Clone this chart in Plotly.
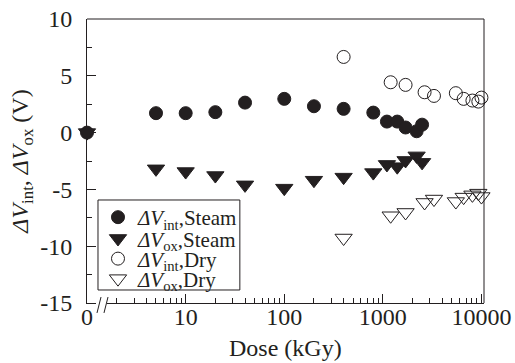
import numpy as np
import plotly.graph_objects as go

# ---------------- data ----------------
steam_dose = [0, 5, 10, 20, 40, 100, 200, 400, 800, 1100, 1400, 1700, 2200, 2500]
steam_vint = [0, 1.71, 1.71, 1.80, 2.64, 2.97, 2.32, 2.09, 1.76, 0.97, 0.97, 0.45, 0.12, 0.70]
steam_vox = [0, -3.19, -3.43, -3.78, -4.60, -4.89, -4.19, -3.92, -3.52, -2.80, -3.00, -2.45, -2.05, -2.62]

dry_dose = [400, 1200, 1700, 2650, 3300, 5500, 6600, 8100, 9300, 10000]
dry_vint = [6.66, 4.43, 4.20, 3.55, 3.23, 3.47, 2.97, 2.82, 2.73, 3.08]
dry_vox = [-9.28, -7.32, -7.03, -6.15, -5.85, -6.07, -5.68, -5.48, -5.33, -5.63]

y_ticks = [-15, -10, -5, 0, 5, 10]
y_ticktext = ["-15", "-10", "-5", "0", "5", "10"]
x_ticks = [10, 100, 1000, 10000]
x_ticktext = ["10", "100", "1000", "10000"]

FONT = "'Liberation Serif', Tinos, 'Times New Roman', 'DejaVu Serif', serif"
INK = "#231f20"

series = [
    ("<i>ΔV</i><sub>int</sub>,Steam", steam_dose, steam_vint, "circle"),
    ("<i>ΔV</i><sub>ox</sub>,Steam", steam_dose, steam_vox, "triangle-down"),
    ("<i>ΔV</i><sub>int</sub>,Dry", dry_dose, dry_vint, "circle-open"),
    ("<i>ΔV</i><sub>ox</sub>,Dry", dry_dose, dry_vox, "triangle-down-open"),
]
legend_ids = ["legend", "legend2", "legend3", "legend4"]

fig = go.Figure()
for (name, dose, vals, sym), lg in zip(series, legend_ids):
    d = np.array(dose, dtype=float)
    v = np.array(vals, dtype=float)
    nz = d > 0
    size = 13 if sym.startswith("circle") else 15
    marker = dict(symbol=sym, size=size, color=INK, line=dict(color=INK, width=1))
    fig.add_trace(go.Scatter(x=d[nz], y=v[nz], xaxis="x2", yaxis="y",
                             mode="markers", name=name, marker=marker,
                             legend=lg, cliponaxis=False))
    if (~nz).any():
        fig.add_trace(go.Scatter(x=d[~nz], y=v[~nz], xaxis="x", yaxis="y",
                                 mode="markers", name=name, marker=marker,
                                 showlegend=False, cliponaxis=False))

tickfont = dict(family=FONT, size=24, color=INK)

# legend rows (paper y of each row centre)
row_y = [0.301, 0.226, 0.155, 0.0845]
legend_layout = {}
for lg, ry in zip(legend_ids, row_y):
    legend_layout[lg] = dict(x=0.0277, y=ry, xanchor="left", yanchor="middle",
                             bgcolor="rgba(0,0,0,0)", borderwidth=0,
                             font=dict(family=FONT, size=21, color=INK),
                             itemwidth=30)

fig.update_layout(
    template="none",
    width=515, height=363,
    margin=dict(l=87, r=31, t=19, b=60, autoexpand=False),
    paper_bgcolor="white", plot_bgcolor="white",
    font=dict(family=FONT, color=INK),
    showlegend=True,
    **legend_layout,
    xaxis=dict(domain=[0, 0.022], range=[0, 1], tickmode="array",
               tickvals=[0], ticktext=["0"], ticks="", showline=True,
               linecolor=INK, linewidth=1, showgrid=False, zeroline=False,
               anchor="y", tickfont=tickfont, automargin=False,
               ticklabelstandoff=-8),
    xaxis2=dict(domain=[0.0504, 1], type="log", range=[0.202, 4.026],
                tickmode="array", tickvals=x_ticks, ticktext=x_ticktext,
                ticks="inside", ticklen=9, tickcolor=INK, tickwidth=1,
                minor=dict(ticks="inside", ticklen=5, dtick="D1",
                           tickcolor=INK, tickwidth=1, showgrid=False),
                showline=True, linecolor=INK, linewidth=1, showgrid=False,
                zeroline=False, anchor="y", tickfont=tickfont,
                automargin=False, ticklabelstandoff=-8),
    yaxis=dict(range=[-15, 10], tickmode="array", tickvals=y_ticks,
               ticktext=y_ticktext, ticks="inside", ticklen=9, tickcolor=INK,
               minor=dict(ticks="inside", ticklen=5, dtick=2.5, tick0=0,
                          tickcolor=INK, showgrid=False),
               showline=True, linecolor=INK, linewidth=1, showgrid=False,
               zeroline=False, anchor="x", tickfont=tickfont,
               ticklabelstandoff=9, automargin=False,
               title=dict(text="<i>ΔV</i><sub>int</sub>, <i>ΔV</i><sub>ox</sub> (V)",
                          font=dict(family=FONT, size=24, color=INK),
                          standoff=4)),
    annotations=[dict(text="Dose (kGy)", x=0.5, y=0, xref="paper", yref="paper",
                      xanchor="center", yanchor="top", yshift=-30,
                      showarrow=False, font=dict(family=FONT, size=24, color=INK))],
    shapes=[
        dict(type="rect", xref="paper", yref="paper", x0=0.0277, x1=0.385,
             y0=0.0458, y1=0.3627, line=dict(color=INK, width=1),
             fillcolor="white", layer="below"),
        dict(type="line", xref="paper", yref="paper", x0=0, x1=1, y0=1, y1=1,
             line=dict(color=INK, width=1)),
        dict(type="line", xref="paper", yref="paper", x0=1, x1=1, y0=0, y1=1,
             line=dict(color=INK, width=1)),
        dict(type="line", xref="paper", yref="paper", x0=0.0252, x1=0.0353,
             y0=-0.035, y1=0.021, line=dict(color=INK, width=1)),
        dict(type="line", xref="paper", yref="paper", x0=0.0428, x1=0.0529,
             y0=-0.035, y1=0.021, line=dict(color=INK, width=1)),
    ],
)

fig.write_html(
    "out.html",
    config={"displayModeBar": False, "staticPlot": True},
    post_script="document.body.style.margin='0px';document.body.style.padding='0px';",
)
